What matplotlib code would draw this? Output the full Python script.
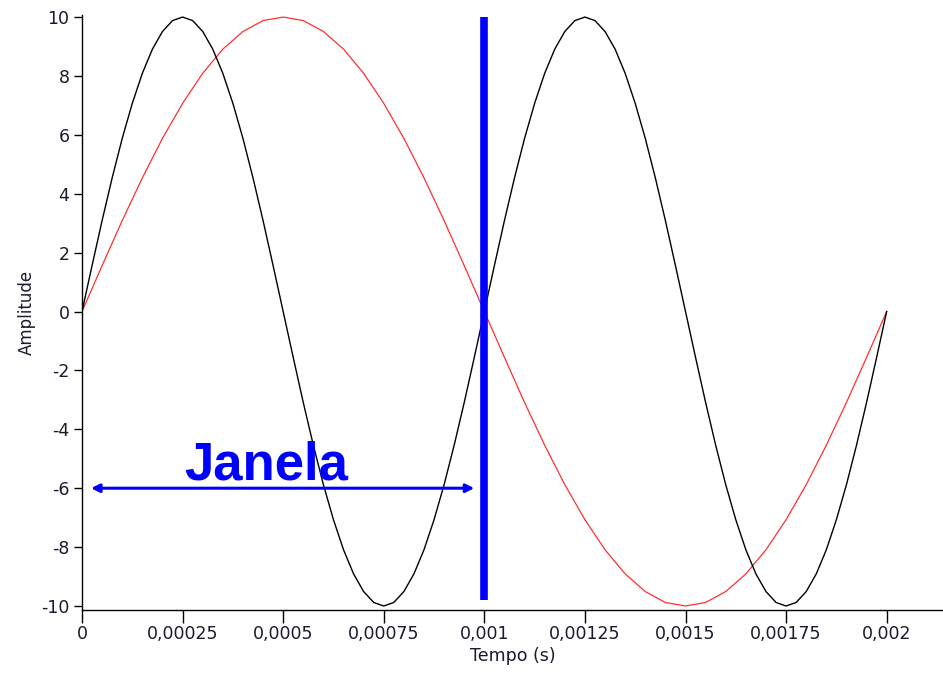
import numpy as np
import matplotlib
matplotlib.use("Agg")
import matplotlib.pyplot as plt

# amplitude, 1 kHz tone (black), two periods
black_amp = [0, 1.56, 3.09, 4.54, 5.88, 7.07, 8.09, 8.91, 9.51, 9.88,
             10, 9.88, 9.51, 8.91, 8.09, 7.07, 5.88, 4.54, 3.09, 1.56,
             0, -1.56, -3.09, -4.54, -5.88, -7.07, -8.09, -8.91, -9.51, -9.88,
             -10, -9.88, -9.51, -8.91, -8.09, -7.07, -5.88, -4.54, -3.09, -1.56,
             0, 1.56, 3.09, 4.54, 5.88, 7.07, 8.09, 8.91, 9.51, 9.88,
             10, 9.88, 9.51, 8.91, 8.09, 7.07, 5.88, 4.54, 3.09, 1.56,
             0, -1.56, -3.09, -4.54, -5.88, -7.07, -8.09, -8.91, -9.51, -9.88,
             -10, -9.88, -9.51, -8.91, -8.09, -7.07, -5.88, -4.54, -3.09, -1.56,
             0]

# 500 Hz tone (red), one period
red_amp = [0, 1.56, 3.09, 4.54, 5.88, 7.07, 8.09, 8.91, 9.51, 9.88,
           10, 9.88, 9.51, 8.91, 8.09, 7.07, 5.88, 4.54, 3.09, 1.56,
           0, -1.56, -3.09, -4.54, -5.88, -7.07, -8.09, -8.91, -9.51, -9.88,
           -10, -9.88, -9.51, -8.91, -8.09, -7.07, -5.88, -4.54, -3.09, -1.56,
           0]

t_end = 0.002
window_line = 0.001
window_start = 0.0000224
window_end = 0.000975
window_y = -6

x_ticks = [0, 0.00025, 0.0005, 0.00075, 0.001, 0.00125, 0.0015, 0.00175, 0.002]
x_labels = ["0", "0,00025", "0,0005", "0,00075", "0,001",
            "0,00125", "0,0015", "0,00175", "0,002"]
y_ticks = [-10, -8, -6, -4, -2, 0, 2, 4, 6, 8, 10]

plt.rcParams["axes.unicode_minus"] = False
plt.rcParams["font.family"] = "DejaVu Sans"

t_black = np.linspace(0, t_end, len(black_amp))
t_red = np.linspace(0, t_end, len(red_amp))

fig = plt.figure(figsize=(9.43, 6.73), dpi=100)
ax = fig.add_axes([82 / 943, 63 / 673, 1 - 82 / 943, 595 / 673])

ax.plot(t_red, red_amp, color="#ff3030", lw=0.9)
ax.plot(t_black, black_amp, color="black", lw=1.0)

ax.plot([window_line, window_line], [10, -9.8], color="#0000ff", lw=5.5,
        solid_capstyle="butt")
ax.annotate("", xy=(window_start, window_y), xytext=(window_end, window_y),
            arrowprops=dict(arrowstyle="<|-|>", color="#0000ff", lw=2.2,
                            mutation_scale=12, shrinkA=0, shrinkB=0))
ax.text(0.000458, -5.72, "Janela", color="#0000ff", fontsize=38,
        fontweight="bold", family="Liberation Sans", ha="center", va="baseline")

ax.set_xlim(0, 0.00214)
ax.set_ylim(-10.136, 10.07)
ax.set_xticks(x_ticks)
ax.set_xticklabels(x_labels)
ax.set_yticks(y_ticks)
ax.tick_params(direction="out", width=1, labelsize=12.5, labelcolor="#1a1a2e")
ax.tick_params(axis="x", length=9, pad=2)
ax.tick_params(axis="y", length=6, pad=3)
for side in ["top", "right"]:
    ax.spines[side].set_visible(False)
for side in ["left", "bottom"]:
    ax.spines[side].set_linewidth(1)

ax.set_xlabel("Tempo (s)", fontsize=12.5, color="#1a1a2e", labelpad=3)
ax.set_ylabel("Amplitude", fontsize=12, color="#1a1a2e", labelpad=4)

fig.savefig("out.png", dpi=100)
